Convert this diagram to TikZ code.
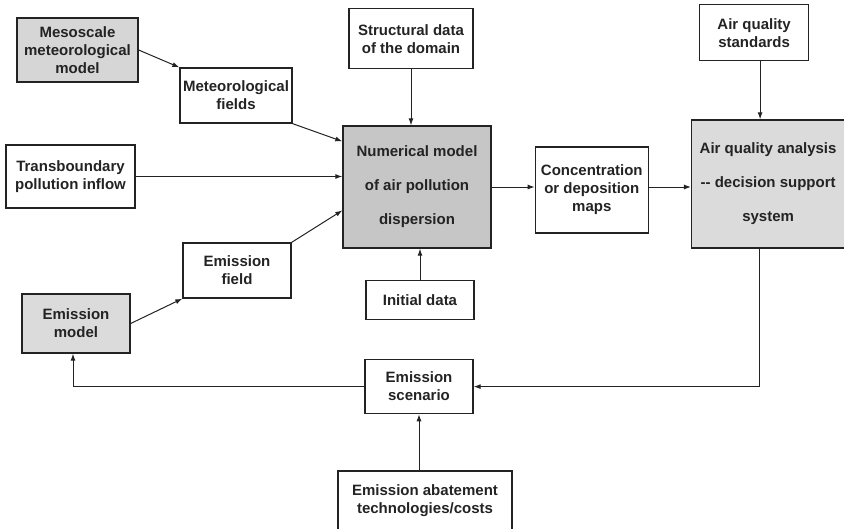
\documentclass[tikz,border=0pt]{standalone}
\usepackage{fontspec}
\setmainfont{Liberation Sans}
\usetikzlibrary{positioning,shapes,arrows.meta,calc}
\definecolor{inkgray}{RGB}{35,35,35}

\begin{document}
\begin{tikzpicture}[x=1pt, y=-1pt, >={Latex[length=7pt,width=5pt]},
    block/.style={draw=inkgray, line width=1.3pt, align=center, inner sep=2pt,
        text=inkgray, font=\fontsize{15}{18}\selectfont\bfseries},
    model/.style={block, fill=gray!32},
    link/.style={->, draw=inkgray, line width=1pt}]
    \useasboundingbox (0,0) rectangle (844,528);

    % dispersion model in the middle
    \node[model, fill=gray!45, minimum width=148pt, minimum height=122pt] (num) at (417,187)
        {Numerical model\\[16pt] of air pollution\\[16pt] dispersion};
    \node[block, minimum width=124pt, minimum height=60pt, above=56pt of num, xshift=-6pt] (struct)
        {Structural data\\of the domain};
    \node[block, minimum width=108pt, minimum height=39pt, below=31pt of num, xshift=3pt] (init)
        {Initial data};
    \node[block, minimum width=108pt, minimum height=54pt, below=39pt of init, xshift=-1pt] (scen)
        {Emission\\scenario};
    \node[block, minimum width=174pt, minimum height=60pt, below=56pt of scen, xshift=6pt] (abat)
        {Emission abatement\\technologies/costs};

    % output side
    \node[block, minimum width=113pt, minimum height=86pt, right=43pt of num, yshift=-3pt] (conc)
        {Concentration\\or deposition\\maps};
    \node[model, fill=gray!28, minimum width=153pt, minimum height=128pt, right=42pt of conc, yshift=6pt] (aqa)
        {Air quality analysis\\[16pt] -{}- decision support\\[16pt] system};
    \node[block, minimum width=109pt, minimum height=56pt, above=58pt of aqa, xshift=-14pt] (aqs)
        {Air quality\\standards};

    % input side
    \node[model, minimum width=121pt, minimum height=64pt] (meso) at (77.5,50)
        {Mesoscale\\meteorological\\model};
    \node[block, minimum width=112pt, minimum height=55pt] (metf) at (236,95.5)
        {Meteorological\\fields};
    \node[block, minimum width=129pt, minimum height=63pt] (trans) at (70.5,176.5)
        {Transboundary\\pollution inflow};
    \node[block, minimum width=108pt, minimum height=55pt] (emf) at (237,270.5)
        {Emission\\field};
    \node[model, fill=gray!28, minimum width=108pt, minimum height=59pt] (emm) at (76,323.5)
        {Emission\\model};

    \draw[link] (meso.east) -- (metf.north west);
    \draw[link] (metf.south east) -- ($(num.north west)!0.13!(num.south west)$);
    \draw[link] (trans) -- (trans -| num.west);
    \draw[link] (emf.north east) -- ($(num.north west)!0.69!(num.south west)$);
    \draw[link] (emm.east) -- (emf.south west);
    \draw[link] (struct) -- (struct |- num.north);
    \draw[link] (init) -- (init |- num.south);
    \draw[link] (num) -- (num -| conc.west);
    \draw[link] (num -| conc.east) -- (num -| aqa.west);
    \draw[link] ($(aqs.south)+(6,0)$) -- ($(aqs.south |- aqa.north)+(6,0)$);
    \draw[link] ($(aqa.south)+(-9,0)$) |- (scen.east);
    \draw[link] (scen.west) -| ($(emm.south)+(-3,0)$);
    \draw[link] (abat.north -| scen) -- (scen.south);
\end{tikzpicture}
\end{document}
